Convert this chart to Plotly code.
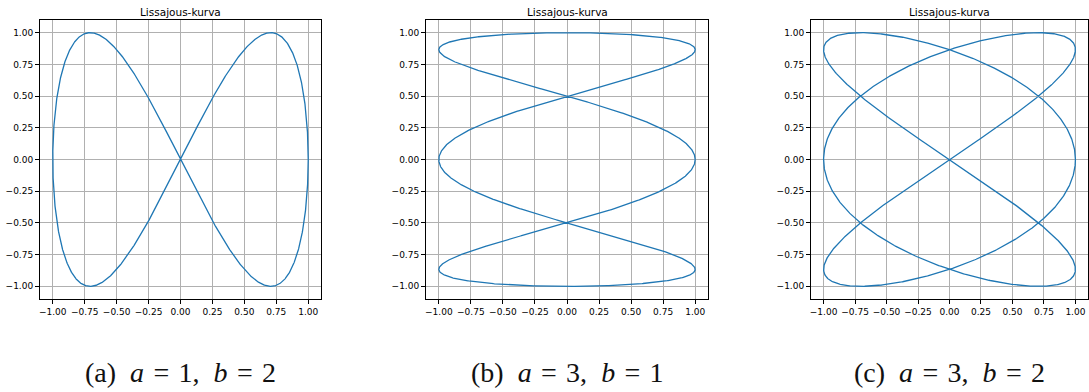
import numpy as np
import plotly.graph_objects as go

# Lissajous parameters for each panel: x = sin(a t + delta), y = sin(b t)
panel_letters = ["a", "b", "c"]
a_values = [1, 3, 3]
b_values = [2, 1, 2]
delta = np.pi / 2
tick_values = [-1.0, -0.75, -0.5, -0.25, 0.0, 0.25, 0.5, 0.75, 1.0]
title_text = "Lissajous-kurva"

W, H = 1089, 392
# panel frames in pixels: (left, right, top, bottom)
frames = [(40, 321, 20, 299), (426, 708, 20, 299), (811, 1088, 20, 299)]

fig = go.Figure()
t = np.linspace(0, 2 * np.pi, 2000)
sp = "&#8196;"  # spacing around the equals signs

for i, (a, b) in enumerate(zip(a_values, b_values)):
    x = np.sin(a * t + delta)
    y = np.sin(b * t)
    n = "" if i == 0 else str(i + 1)
    fig.add_trace(go.Scatter(
        x=x, y=y, mode="lines",
        line=dict(color="#1f77b4", width=1.3),
        xaxis="x" + n, yaxis="y" + n, showlegend=False, hoverinfo="skip",
    ))
    l, r, tp, bt = frames[i]
    axis_common = dict(
        range=[-1.1, 1.1], tickvals=tick_values, tickformat=".2f",
        showgrid=True, gridcolor="#b0b0b0", gridwidth=1,
        zeroline=False, showline=True, linecolor="black", linewidth=1,
        mirror=True, ticks="outside", ticklen=4, tickcolor="black",
        tickfont=dict(family="DejaVu Sans", size=9, color="black"),
    )
    fig.update_layout({
        "xaxis" + n: dict(axis_common, domain=[l / W, r / W],
                          anchor="y" + n),
        "yaxis" + n: dict(axis_common, domain=[1 - bt / H, 1 - tp / H],
                          anchor="x" + n),
    })
    cx = (l + r) / 2 / W
    fig.add_annotation(
        x=cx, y=1 - 12 / H, xref="paper", yref="paper",
        text=title_text, showarrow=False,
        font=dict(family="DejaVu Sans", size=10.5, color="black"),
        xanchor="center", yanchor="middle",
    )
    fig.add_annotation(
        x=cx, y=1 - 372 / H, xref="paper", yref="paper",
        text=(f"({panel_letters[i]})&#8194;<i>a</i>{sp}={sp}{a},"
              f"&#8194;<i>b</i>{sp}={sp}{b}"),
        showarrow=False,
        font=dict(family="Liberation Serif", size=28, color="#111111"),
        xanchor="center", yanchor="middle",
    )

fig.update_layout(
    width=W, height=H,
    margin=dict(l=0, r=0, t=0, b=0),
    paper_bgcolor="white", plot_bgcolor="white",
)

fig.write_html("out.html")
